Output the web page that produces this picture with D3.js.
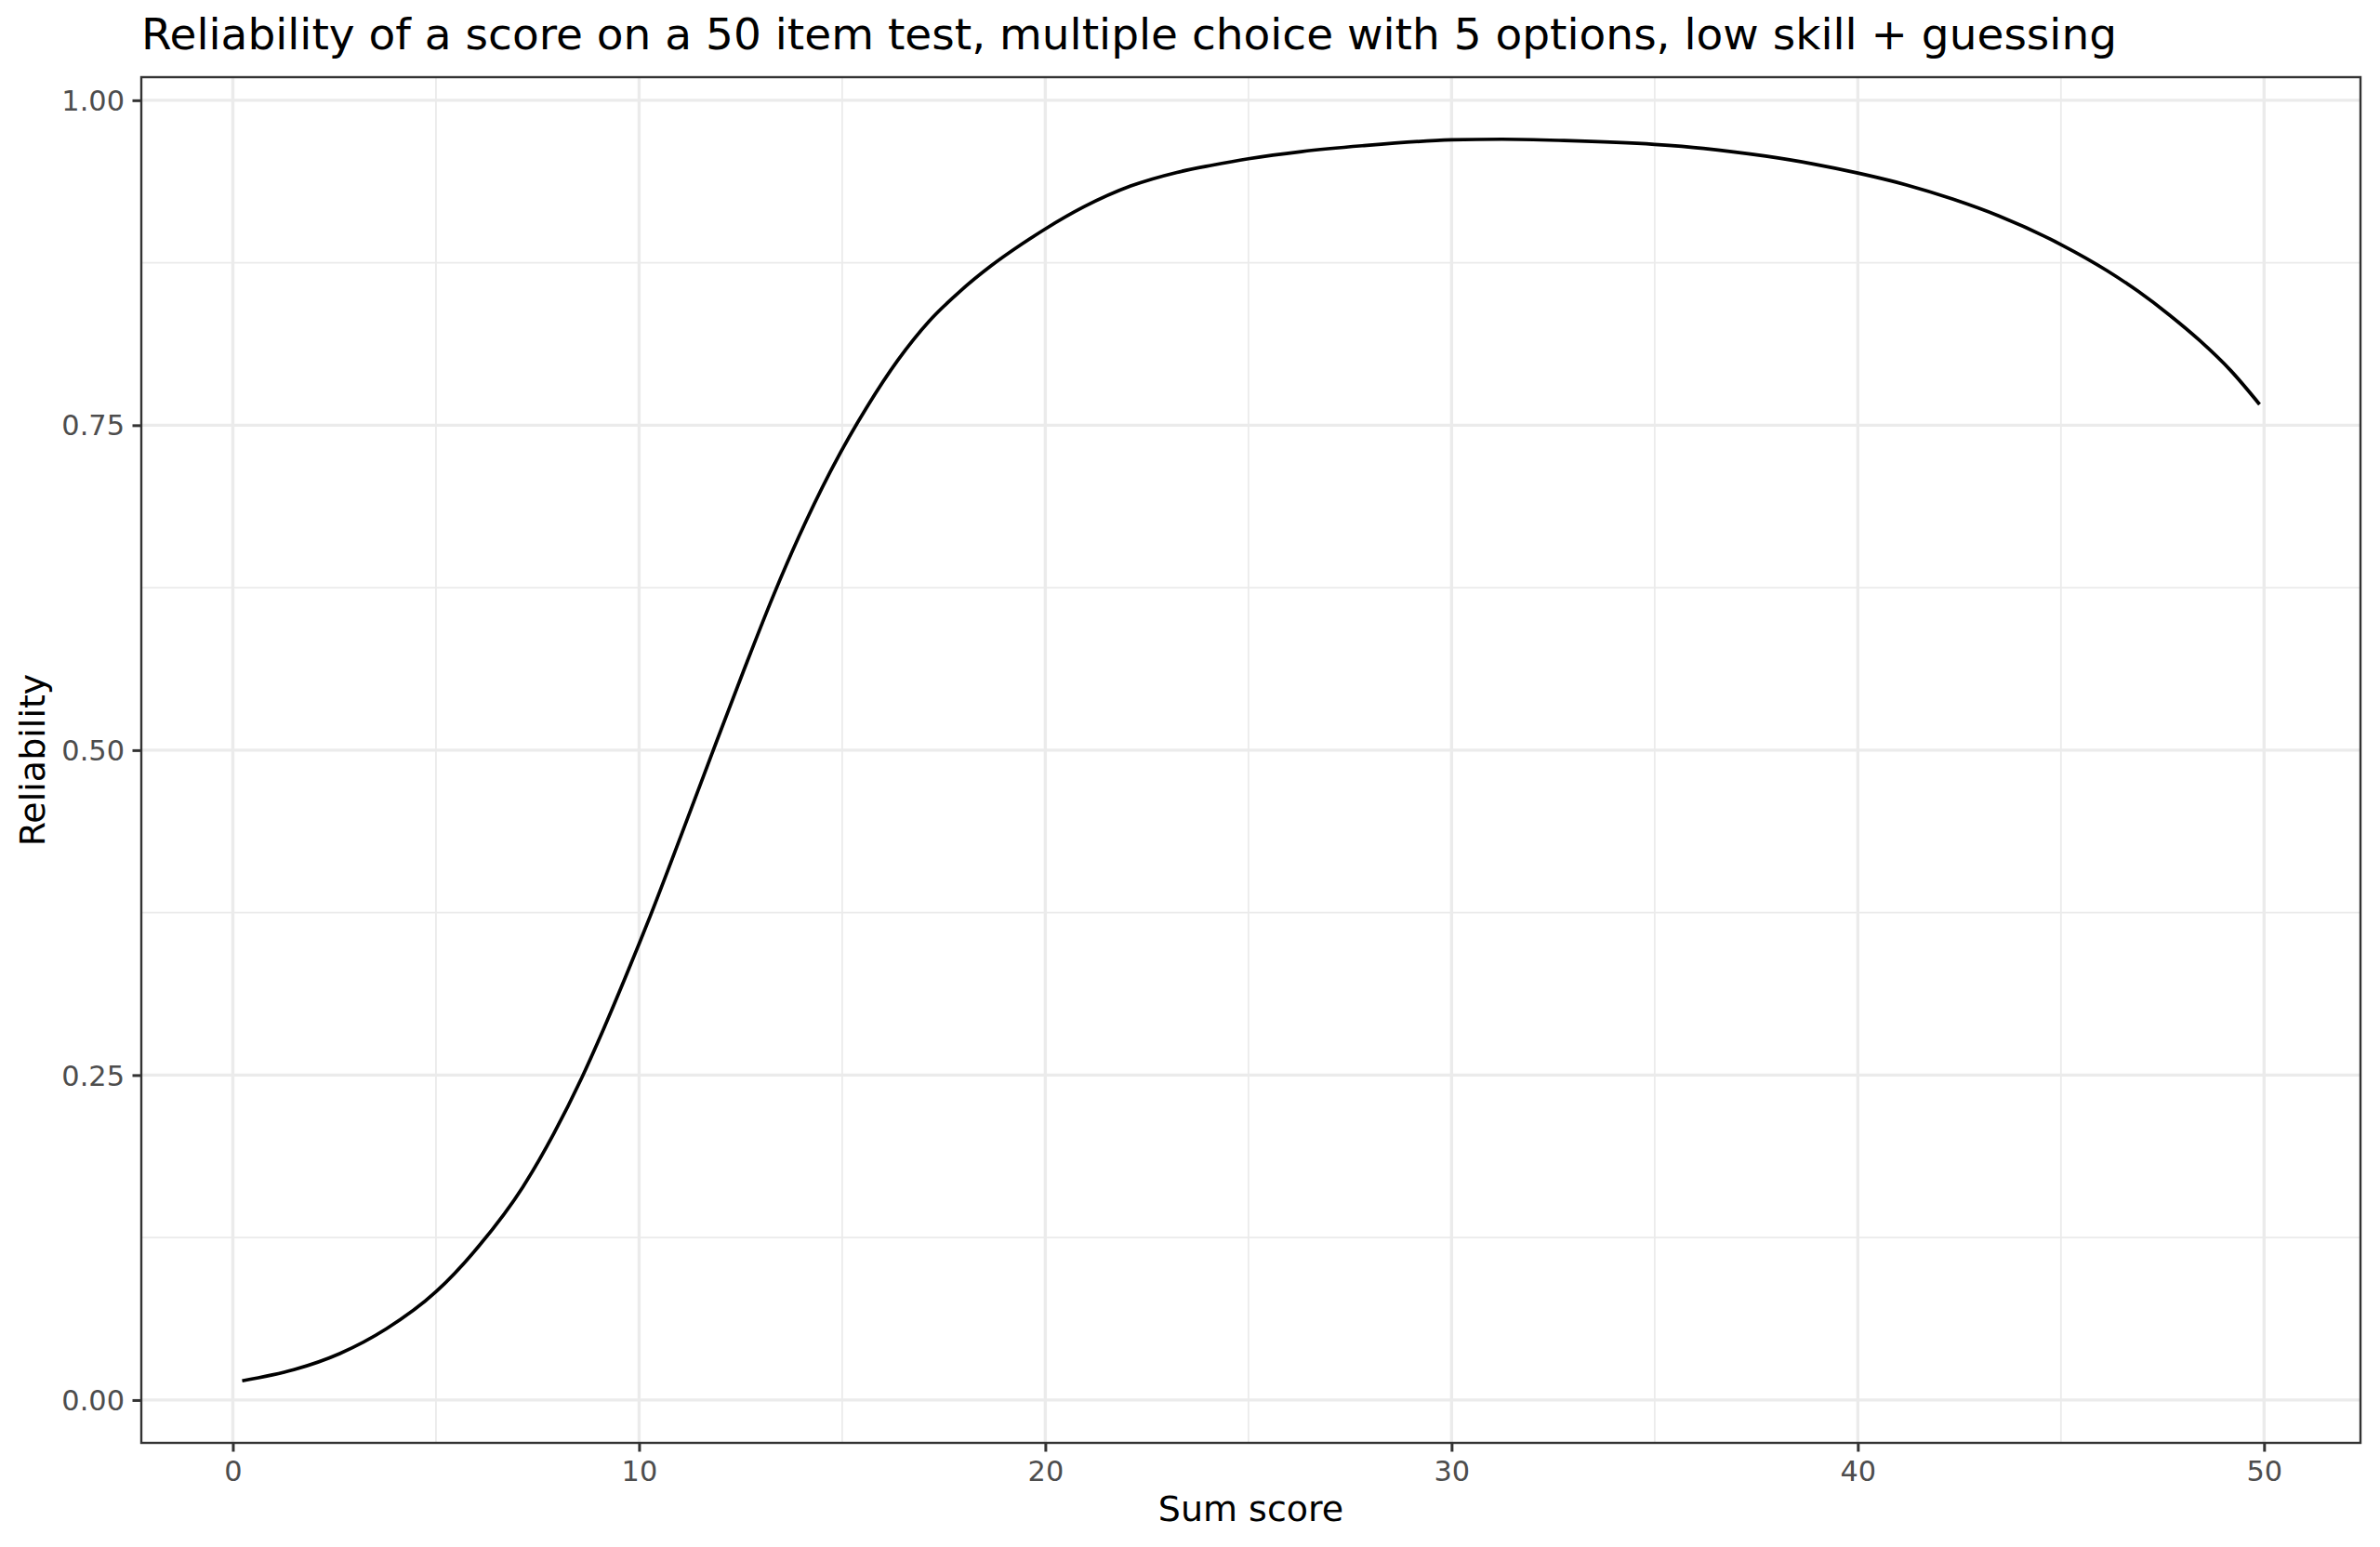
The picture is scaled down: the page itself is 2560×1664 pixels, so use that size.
<!DOCTYPE html>
<html>
<head>
<meta charset="utf-8">
<script src="https://cdn.jsdelivr.net/npm/d3@7"></script>
<style>
  html, body { margin: 0; padding: 0; background: #ffffff; }
  svg { display: block; }
  text { font-family: "DejaVu Sans", sans-serif; }
</style>
</head>
<body>
<script>
// ---- data ----
const sumScore = [0.23, 1.5, 2.63, 3.78, 5, 6.07, 7.14, 7.9, 8.59, 9.12, 9.66, 10, 10.27, 11.03, 11.79,
  12.56, 13.32, 13.93, 14.77, 15.61, 16.37, 17.14, 17.9, 18.66, 19.43, 20, 20.95, 22.1, 23.24, 24.1, 25,
  26.3, 27.8, 30, 31.24, 32.77, 35, 36.2, 37.73, 38.9, 40, 41.18, 42.33, 43.47, 45, 46.13, 46.9,
  47.66, 48.42, 49.18, 49.89];
const reliability = [0.0148, 0.0233, 0.0357, 0.0548, 0.0833, 0.119, 0.164, 0.205, 0.248, 0.285, 0.325,
  0.351, 0.372, 0.434, 0.497, 0.560, 0.620, 0.664, 0.718, 0.764, 0.800, 0.830, 0.853, 0.8725, 0.8895, 0.901,
  0.918, 0.934, 0.9445, 0.950, 0.955, 0.9605, 0.965, 0.9695, 0.970, 0.969, 0.966, 0.963, 0.957, 0.951, 0.944,
  0.935, 0.924, 0.911, 0.889, 0.869, 0.853, 0.835, 0.815, 0.792, 0.766];
const xTicks = [0, 10, 20, 30, 40, 50];
const xMinor = [5, 15, 25, 35, 45];
const yTicks = [0, 0.25, 0.5, 0.75, 1.0];
const yMinor = [0.125, 0.375, 0.625, 0.875];
const titleText = "Reliability of a score on a 50 item test, multiple choice with 5 options, low skill + guessing";
const xLabel = "Sum score";
const yLabel = "Reliability";

// ---- layout ----
const W = 2560, H = 1664;
const panel = { left: 152, right: 2539, top: 83, bottom: 1552 };

const data = sumScore.map((d, i) => ({ x: d, y: reliability[i] }));

// ggplot-style 5% expansion
const xe = d3.extent(sumScore), ye = d3.extent(reliability);
const xp = (xe[1] - xe[0]) * 0.05, yp = (ye[1] - ye[0]) * 0.05;
const x = d3.scaleLinear().domain([xe[0] - xp, xe[1] + xp]).range([panel.left, panel.right]);
const y = d3.scaleLinear().domain([ye[0] - yp, ye[1] + yp]).range([panel.bottom, panel.top]);

const svg = d3.select("body").append("svg").attr("width", W).attr("height", H);
svg.append("rect").attr("width", W).attr("height", H).attr("fill", "#ffffff");

const grid = svg.append("g");
// minor grid
grid.selectAll("line.xmin").data(xMinor).enter().append("line")
  .attr("x1", d => x(d)).attr("x2", d => x(d)).attr("y1", panel.top).attr("y2", panel.bottom)
  .attr("stroke", "#EBEBEB").attr("stroke-width", 1.8);
grid.selectAll("line.ymin").data(yMinor).enter().append("line")
  .attr("y1", d => y(d)).attr("y2", d => y(d)).attr("x1", panel.left).attr("x2", panel.right)
  .attr("stroke", "#EBEBEB").attr("stroke-width", 1.8);
// major grid
grid.selectAll("line.xmaj").data(xTicks).enter().append("line")
  .attr("x1", d => x(d)).attr("x2", d => x(d)).attr("y1", panel.top).attr("y2", panel.bottom)
  .attr("stroke", "#EBEBEB").attr("stroke-width", 3.4);
grid.selectAll("line.ymaj").data(yTicks).enter().append("line")
  .attr("y1", d => y(d)).attr("y2", d => y(d)).attr("x1", panel.left).attr("x2", panel.right)
  .attr("stroke", "#EBEBEB").attr("stroke-width", 3.4);

// line
const line = d3.line().x(d => x(d.x)).y(d => y(d.y)).curve(d3.curveMonotoneX);
svg.append("path").datum(data).attr("d", line)
  .attr("fill", "none").attr("stroke", "#000000").attr("stroke-width", 3.7)
  .attr("stroke-linejoin", "round").attr("stroke-linecap", "butt");

// panel border
svg.append("rect").attr("x", panel.left).attr("y", panel.top)
  .attr("width", panel.right - panel.left).attr("height", panel.bottom - panel.top)
  .attr("fill", "none").attr("stroke", "#333333").attr("stroke-width", 2.4);

// axes
const xAxis = d3.axisBottom(x).tickValues(xTicks).tickFormat(d3.format("d")).tickSize(9.5).tickPadding(7);
const gx = svg.append("g").attr("transform", `translate(0,${panel.bottom})`).call(xAxis);
gx.select(".domain").remove();
gx.selectAll(".tick line").attr("stroke", "#333333").attr("stroke-width", 3);
gx.selectAll(".tick text").attr("fill", "#4D4D4D").attr("font-size", 30.4)
  .attr("font-family", "DejaVu Sans").attr("dy", null).attr("y", 41);

const yAxis = d3.axisLeft(y).tickValues(yTicks).tickFormat(d3.format(".2f")).tickSize(9.5).tickPadding(8);
const gy = svg.append("g").attr("transform", `translate(${panel.left},0)`).call(yAxis);
gy.select(".domain").remove();
gy.selectAll(".tick line").attr("stroke", "#333333").attr("stroke-width", 3);
gy.selectAll(".tick text").attr("fill", "#4D4D4D").attr("font-size", 30.4)
  .attr("font-family", "DejaVu Sans").attr("dy", "0.35em").attr("x", -18);

// titles
svg.append("text").attr("x", panel.left).attr("y", 53).attr("font-size", 47)
  .attr("fill", "#000000").text(titleText);
svg.append("text").attr("x", (panel.left + panel.right) / 2).attr("y", 1636)
  .attr("text-anchor", "middle").attr("font-size", 38).attr("fill", "#000000").text(xLabel);
svg.append("text").attr("transform", `translate(48,${(panel.top + panel.bottom) / 2}) rotate(-90)`)
  .attr("text-anchor", "middle").attr("font-size", 38).attr("fill", "#000000").text(yLabel);
</script>
</body>
</html>
